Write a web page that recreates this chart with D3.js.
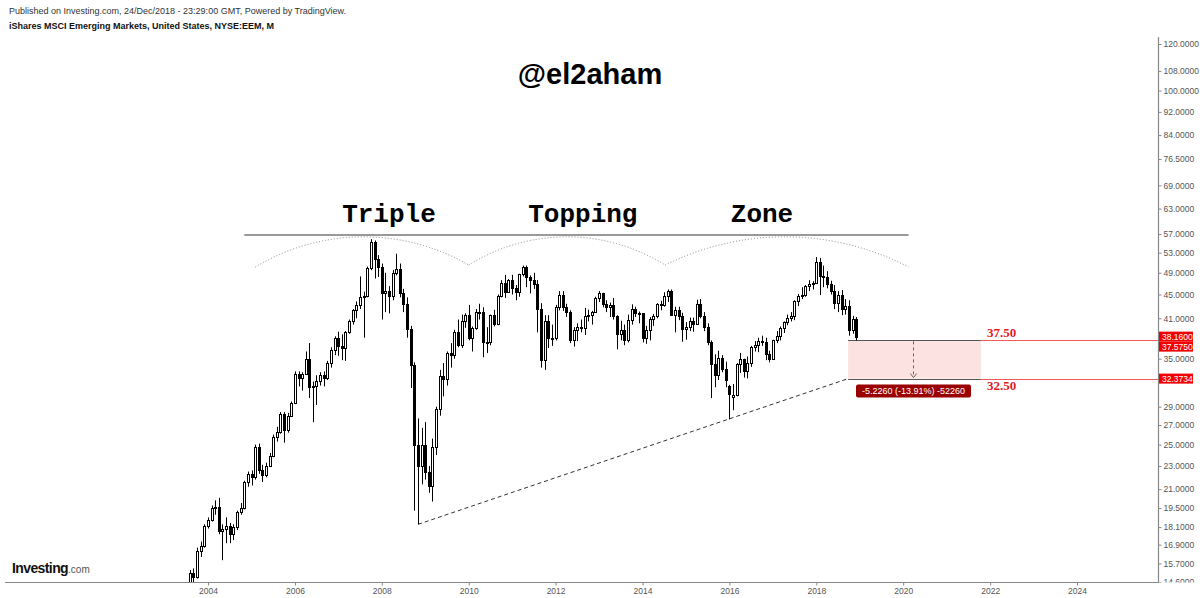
<!DOCTYPE html>
<html><head><meta charset="utf-8">
<script src="https://cdn.jsdelivr.net/npm/d3@7"></script>
<style>html,body{margin:0;padding:0;background:#fff;} svg{display:block;}</style>
</head><body>
<svg id="c" width="1200" height="598"></svg>
<script>
// ---- monthly bars (EEM, M) ----
const months = [
"2003-08","2003-09","2003-10","2003-11","2003-12",
"2004-01","2004-02","2004-03","2004-04","2004-05","2004-06","2004-07","2004-08","2004-09","2004-10","2004-11","2004-12",
"2005-01","2005-02","2005-03","2005-04","2005-05","2005-06","2005-07","2005-08","2005-09","2005-10","2005-11","2005-12",
"2006-01","2006-02","2006-03","2006-04","2006-05","2006-06","2006-07","2006-08","2006-09","2006-10","2006-11","2006-12",
"2007-01","2007-02","2007-03","2007-04","2007-05","2007-06","2007-07","2007-08","2007-09","2007-10","2007-11","2007-12",
"2008-01","2008-02","2008-03","2008-04","2008-05","2008-06","2008-07","2008-08","2008-09","2008-10","2008-11","2008-12",
"2009-01","2009-02","2009-03","2009-04","2009-05","2009-06","2009-07","2009-08","2009-09","2009-10","2009-11","2009-12",
"2010-01","2010-02","2010-03","2010-04","2010-05","2010-06","2010-07","2010-08","2010-09","2010-10","2010-11","2010-12",
"2011-01","2011-02","2011-03","2011-04","2011-05","2011-06","2011-07","2011-08","2011-09","2011-10","2011-11","2011-12",
"2012-01","2012-02","2012-03","2012-04","2012-05","2012-06","2012-07","2012-08","2012-09","2012-10","2012-11","2012-12",
"2013-01","2013-02","2013-03","2013-04","2013-05","2013-06","2013-07","2013-08","2013-09","2013-10","2013-11","2013-12",
"2014-01","2014-02","2014-03","2014-04","2014-05","2014-06","2014-07","2014-08","2014-09","2014-10","2014-11","2014-12",
"2015-01","2015-02","2015-03","2015-04","2015-05","2015-06","2015-07","2015-08","2015-09","2015-10","2015-11","2015-12",
"2016-01","2016-02","2016-03","2016-04","2016-05","2016-06","2016-07","2016-08","2016-09","2016-10","2016-11","2016-12",
"2017-01","2017-02","2017-03","2017-04","2017-05","2017-06","2017-07","2017-08","2017-09","2017-10","2017-11","2017-12",
"2018-01","2018-02","2018-03","2018-04","2018-05","2018-06","2018-07","2018-08","2018-09","2018-10","2018-11","2018-12"
];
const opens = [
14.5,15.1,14.9,16.5,16.8,
18.2,18.6,19.5,19.6,17.8,18.0,18.2,17.6,18.1,19.2,19.5,21.6,
22.3,22.0,24.8,22.6,22.2,23.0,23.9,25.8,26.3,28.2,26.5,28.0,
29.4,33.0,32.5,33.0,35.0,31.3,31.4,32.1,32.8,32.5,34.4,36.2,
38.0,36.8,36.5,38.8,40.5,42.3,43.2,44.6,44.8,50.0,55.2,51.7,
50.2,45.2,45.6,44.8,49.0,49.8,45.3,43.3,39.3,34.2,25.0,23.0,
25.0,22.5,21.3,24.8,28.7,32.7,32.3,35.8,35.5,38.9,37.0,40.5,
41.5,37.9,39.4,42.1,42.0,37.4,37.3,41.5,40.1,44.8,47.0,45.5,
47.6,46.2,45.5,48.7,50.2,48.2,47.6,46.8,42.6,34.8,40.5,38.0,
37.9,42.9,45.0,42.9,42.0,37.6,39.1,39.6,39.5,41.3,41.6,42.1,
44.4,45.2,43.4,42.8,43.2,41.3,38.5,39.2,37.6,40.8,42.6,41.9,
41.8,38.0,39.2,40.9,41.3,43.3,43.2,44.8,45.6,41.6,42.3,41.3,
39.3,39.6,40.6,40.1,43.3,41.3,39.6,37.4,34.3,32.8,35.1,33.6,
31.4,30.1,30.4,34.3,34.9,33.4,34.4,36.6,37.0,37.5,37.4,35.6,
35.0,37.6,38.3,39.4,40.4,41.1,41.4,43.9,44.8,44.9,46.5,46.9,
47.1,51.2,48.3,48.2,46.9,45.7,43.6,45.0,42.6,43.0,39.1,40.9
];
const highs = [
15.3,15.4,16.7,17.1,18.3,
18.8,19.7,20.1,20.3,18.3,18.8,18.4,18.3,19.3,19.9,21.7,22.5,
22.6,25.0,25.1,23.1,23.3,24.2,26.0,26.8,28.4,28.4,28.3,29.6,
33.3,33.3,33.2,36.0,37.2,32.0,32.8,33.2,33.3,34.7,36.6,38.2,
38.9,38.5,39.0,40.8,42.5,43.8,48.3,45.5,50.2,55.9,55.6,52.5,
50.8,49.0,46.5,49.5,52.8,50.8,46.0,44.5,39.8,34.5,27.7,26.7,
27.3,23.0,25.6,29.0,33.5,34.4,36.0,37.2,39.2,40.8,41.6,41.8,
43.2,39.7,42.5,43.4,42.8,39.6,41.6,42.4,45.0,47.6,48.6,47.8,
48.6,46.7,48.8,50.4,50.4,48.5,49.0,47.6,43.5,41.5,41.5,40.0,
43.2,45.6,45.6,43.4,42.3,39.6,40.2,40.8,42.7,42.4,42.2,44.6,
45.6,45.3,44.0,43.6,44.4,41.5,40.6,40.0,41.6,43.3,42.9,42.1,
41.8,39.8,41.2,41.7,43.5,43.9,45.4,45.9,45.9,42.9,42.9,41.9,
40.4,41.1,41.1,44.1,44.2,42.0,40.2,37.6,35.6,36.1,35.5,34.6,
31.6,31.7,34.4,35.8,35.0,35.3,36.8,37.5,38.0,38.3,38.0,36.1,
37.7,39.0,39.7,40.5,41.6,42.0,44.0,45.1,46.3,46.7,47.6,47.4,
52.1,51.9,50.4,49.3,47.5,46.7,45.6,45.8,44.2,44.0,41.4,41.2
];
const lows = [
14.2,14.6,14.8,16.1,16.7,
18.0,18.5,19.0,17.6,15.9,17.0,17.0,17.2,17.9,19.0,19.4,21.2,
21.3,21.8,22.3,21.6,22.0,22.9,23.8,25.3,26.1,25.2,26.2,27.9,
29.3,31.4,30.9,32.9,30.0,27.3,29.2,31.5,31.4,32.2,33.8,35.5,
35.4,34.8,34.7,38.6,40.0,41.0,42.5,38.0,44.5,49.5,47.9,48.2,
40.8,42.0,41.8,44.0,48.5,44.5,42.0,38.0,31.2,19.3,18.3,21.4,
21.8,20.7,20.0,24.0,28.0,30.2,31.5,33.8,35.0,36.6,36.5,39.5,
37.6,36.0,39.2,40.8,35.2,35.8,36.9,39.7,39.9,44.5,44.4,45.3,
45.0,44.0,44.6,48.3,46.3,45.2,46.0,38.8,33.8,33.5,36.5,36.8,
37.6,42.3,42.2,41.2,37.2,36.7,37.5,38.8,38.4,40.5,40.0,42.0,
43.7,42.8,42.0,41.2,40.8,36.3,37.6,36.9,37.3,40.0,41.2,40.2,
37.3,37.1,37.6,39.8,41.0,42.3,42.9,43.7,41.5,38.8,40.7,37.4,
37.7,39.0,38.9,40.0,41.0,39.0,36.9,30.0,31.3,32.2,33.2,31.3,
27.6,28.6,30.2,33.1,32.5,32.4,33.9,36.0,35.9,36.8,34.8,34.5,
35.0,37.2,37.6,38.7,39.9,40.5,40.7,43.0,44.2,44.6,45.6,45.9,
47.1,44.9,46.3,46.1,45.0,42.5,42.0,41.5,41.6,38.3,38.6,37.575
];
const closes = [
15.1,14.9,16.5,16.8,18.2,
18.6,19.5,19.6,17.8,18.0,18.2,17.6,18.1,19.2,19.5,21.6,22.3,
22.0,24.8,22.6,22.2,23.0,23.9,25.8,26.3,28.2,26.5,28.0,29.4,
33.0,32.5,33.0,35.0,31.3,31.4,32.1,32.8,32.5,34.4,36.2,38.0,
36.8,36.5,38.8,40.5,42.3,43.2,44.6,44.8,50.0,55.2,51.7,50.2,
45.2,45.6,44.8,49.0,49.8,45.3,43.3,39.3,34.2,25.0,23.0,25.0,
22.5,21.3,24.8,28.7,32.7,32.3,35.8,35.5,38.9,37.0,40.5,41.5,
37.9,39.4,42.1,42.0,37.4,37.3,41.5,40.1,44.8,47.0,45.5,47.6,
46.2,45.5,48.7,50.2,48.2,47.6,46.8,42.6,34.8,40.5,38.0,37.9,
42.9,45.0,42.9,42.0,37.6,39.1,39.6,39.5,41.3,41.6,42.1,44.4,
45.2,43.4,42.8,43.2,41.3,38.5,39.2,37.6,40.8,42.6,41.9,41.8,
38.0,39.2,40.9,41.3,43.3,43.2,44.8,45.6,41.6,42.3,41.3,39.3,
39.6,40.6,40.1,43.3,41.3,39.6,37.4,34.3,32.8,35.1,33.6,32.2,
30.5,30.4,34.3,34.9,33.4,34.4,36.6,37.0,37.5,37.4,35.6,35.0,
37.6,38.3,39.4,40.4,41.1,41.4,43.9,44.8,44.9,46.5,46.9,47.1,
51.2,48.3,48.2,46.9,45.7,43.6,45.0,42.6,43.0,39.1,40.9,38.16
];

// ---- axis ticks ----
const yTickValues = [120,108,100,92,84,76.5,69,63,57,53,49,45,41,35,29,27,25,23,21,19.5,18.1,16.9,15.7,14.6];
const xTickYears = ["2004","2006","2008","2010","2012","2014","2016","2018","2020","2022","2024"];
const priceTags = [38.16, 37.575, 32.3734];

// ---- drawings (date, price) ----
const topLine = ["2004-11-01", "2020-02-15", 56.8];
const arcs = [["2005-02-01",50.1,"2010-01-01",50.5],["2010-01-01",50.5,"2014-07-10",50.5],["2014-07-10",50.5,"2020-02-15",50.1]];
const arcTop = 56.4;
const trendLine = ["2008-11-01",18.3,"2018-09-25",32.3734];
const rangeBox = ["2018-09-25","2021-10-15",37.6,32.3734];
const rangeArrowDate = "2020-03-25";
const rangeLabels = [["37.50",37.6,"above"],["32.50",32.3734,"below"]];
const rangeText = "-5.2260 (-13.91%) -52260";
const zoneWords = [["Triple","2008-03-01"],["Topping","2012-08-17"],["Zone","2016-10-01"]];
const zoneWordPrice = 59.8;

// ---- setup ----
const svg = d3.select("#c");
const pm = d3.utcParse("%Y-%m");
const pd = d3.utcParse("%Y-%m-%d");
const py = d3.utcParse("%Y");
const SANS = "Arial, 'Liberation Sans', sans-serif";
const AX = 1158, AY = 582;

const x = d3.scaleUtc().domain([py("2004"), py("2024")]).range([208, 1077]);
const y = d3.scaleLog().domain([14.6, 120]).range([582, 44]);

const defs = svg.append("defs");
defs.append("clipPath").attr("id","plot").append("rect").attr("x",0).attr("y",37).attr("width",AX).attr("height",AY-37);
defs.append("clipPath").attr("id","yax").append("rect").attr("x",AX).attr("y",30).attr("width",42).attr("height",AY-30+0.5);

// header
svg.append("text").attr("x",9).attr("y",14).attr("font-family",SANS).attr("font-size",9).attr("fill","#333")
  .text("Published on Investing.com, 24/Dec/2018 - 23:29:00 GMT, Powered by TradingView.");
svg.append("text").attr("x",9).attr("y",29).attr("font-family",SANS).attr("font-size",9).attr("font-weight","bold").attr("fill","#111")
  .text("iShares MSCI Emerging Markets, United States, NYSE:EEM, M");

// title
svg.append("text").attr("x",590).attr("y",84).attr("text-anchor","middle").attr("font-family",SANS)
  .attr("font-size",29).attr("font-weight","bold").attr("fill","#000").text("@el2aham");

const plot = svg.append("g").attr("clip-path","url(#plot)");

// range box
const bx0 = x(pd(rangeBox[0])), bx1 = x(pd(rangeBox[1]));
const by0 = y(rangeBox[2]), by1 = y(rangeBox[3]);
plot.append("rect").attr("x",bx0).attr("y",by0).attr("width",bx1-bx0).attr("height",by1-by0).attr("fill","#fde2e2");
[by0, by1].forEach(v => {
  plot.append("line").attr("x1",bx0).attr("x2",bx1).attr("y1",Math.round(v)+0.5).attr("y2",Math.round(v)+0.5).attr("stroke","#555").attr("stroke-width",1);
  plot.append("line").attr("x1",bx1).attr("x2",AX).attr("y1",Math.round(v)+0.5).attr("y2",Math.round(v)+0.5).attr("stroke","#f05a5a").attr("stroke-width",1);
});
const ax = Math.round(x(pd(rangeArrowDate)))+0.5;
plot.append("line").attr("x1",ax).attr("x2",ax).attr("y1",by0+1).attr("y2",by1-1).attr("stroke","#666").attr("stroke-dasharray","3,3");
plot.append("path").attr("d",`M${ax-3},${by1-5} L${ax},${by1-1} L${ax+3},${by1-5}`).attr("fill","none").attr("stroke","#666");

// trend line
plot.append("line").attr("x1",x(pd(trendLine[0]))).attr("y1",y(trendLine[1])).attr("x2",x(pd(trendLine[2]))).attr("y2",y(trendLine[3]))
  .attr("stroke","#333").attr("stroke-width",1).attr("stroke-dasharray","4,3");

// top line
plot.append("line").attr("x1",x(pd(topLine[0]))).attr("x2",x(pd(topLine[1]))).attr("y1",y(topLine[2])).attr("y2",y(topLine[2]))
  .attr("stroke","#777").attr("stroke-width",1.5);

// dotted arcs
arcs.forEach(a => {
  const x0 = x(pd(a[0])), y0 = y(a[1]), x1 = x(pd(a[2])), y1 = y(a[3]);
  const s = (y0+y1)/2 - y(arcTop), w = (x1-x0)/2;
  const R = (w*w + s*s)/(2*s);
  plot.append("path").attr("d",`M${x0},${y0} A${R},${R} 0 0 1 ${x1},${y1}`)
    .attr("fill","none").attr("stroke","#888").attr("stroke-width",1).attr("stroke-dasharray","1,2");
});

// candles
const bars = months.map((m,i)=>({d:pm(m),o:opens[i],h:highs[i],l:lows[i],c:closes[i]}));
const cg = plot.append("g");
bars.forEach(b => {
  const cx = Math.round(x(b.d));
  cg.append("line").attr("x1",cx+0.5).attr("x2",cx+0.5).attr("y1",y(b.h)).attr("y2",y(b.l)).attr("stroke","#000").attr("stroke-width",1);
  const t = Math.round(y(Math.max(b.o,b.c))), bt = Math.round(y(Math.min(b.o,b.c)));
  const up = b.c >= b.o;
  cg.append("rect").attr("x",cx-0.5).attr("y",t+0.5).attr("width",2).attr("height",Math.max(1,bt-t))
    .attr("fill",up?"#fff":"#000").attr("stroke","#000").attr("stroke-width",1);
});

// zone words
zoneWords.forEach(w => {
  svg.append("text").attr("x",x(pd(w[1]))).attr("y",y(zoneWordPrice)).attr("text-anchor","middle")
    .attr("font-family","'Liberation Mono', 'Courier New', monospace").attr("font-weight","bold").attr("font-size",26).attr("fill","#000").text(w[0]);
});

// range labels
rangeLabels.forEach(r => {
  svg.append("text").attr("x",bx1+6).attr("y",r[2]==="above"? y(r[1])-3 : y(r[1])+11)
    .attr("font-family","'Liberation Serif', 'Times New Roman', serif").attr("font-weight","bold").attr("font-size",13)
    .attr("fill","#e01b1b").text(r[0]);
});
const lbw = 115, lbh = 13;
svg.append("rect").attr("x",ax-lbw/2).attr("y",by1+6).attr("width",lbw).attr("height",lbh).attr("rx",2).attr("fill","#9b0000");
svg.append("text").attr("x",ax).attr("y",by1+6+lbh/2).attr("dy","0.35em").attr("text-anchor","middle")
  .attr("font-family",SANS).attr("font-size",9).attr("fill","#fff").text(rangeText);

// axes
const yAxis = d3.axisRight(y).tickValues(yTickValues).tickSize(3).tickPadding(2).tickFormat(d=>d.toFixed(4));
const yclip = svg.append("g").attr("clip-path","url(#yax)");
const yg = yclip.append("g").attr("transform",`translate(${AX+0.5},0)`).call(yAxis);
yg.select(".domain").remove();
yg.selectAll("text").attr("font-family",SANS).attr("font-size",8.5).attr("fill","#555");
yg.selectAll(".tick line").attr("stroke","#888");

const xAxis = d3.axisBottom(x).tickValues(xTickYears.map(v=>py(v))).tickSize(3).tickPadding(2).tickFormat(d3.utcFormat("%Y"));
const xg = svg.append("g").attr("transform",`translate(0,${AY+0.5})`).call(xAxis);
xg.select(".domain").remove();
xg.selectAll("text").attr("font-family",SANS).attr("font-size",8.5).attr("fill","#555");
xg.selectAll(".tick line").attr("stroke","#888");

svg.append("line").attr("x1",AX+0.5).attr("x2",AX+0.5).attr("y1",37).attr("y2",AY+1).attr("stroke","#888").attr("stroke-width",1.2);
svg.append("line").attr("x1",5).attr("x2",AX+1).attr("y1",AY+0.5).attr("y2",AY+0.5).attr("stroke","#888").attr("stroke-width",1.2);

// price tags (pushed apart)
let prevBottom = -Infinity;
priceTags.forEach(p => {
  const h = 10;
  let top = y(p) - h/2;
  if (top < prevBottom) top = prevBottom;
  prevBottom = top + h;
  svg.append("rect").attr("x",AX+1).attr("y",top).attr("width",34).attr("height",h).attr("fill","#f20000");
  svg.append("text").attr("x",AX+4).attr("y",top+h/2).attr("dy","0.35em").attr("font-family",SANS).attr("font-size",8.5)
    .attr("fill","#fff").text(p.toFixed(4));
});

// Investing.com logo
const logo = svg.append("text").attr("x",12).attr("y",573).attr("font-family",SANS);
logo.append("tspan").attr("font-size",14).attr("font-weight","bold").attr("letter-spacing","-0.6").attr("fill","#111").text("Investing");
logo.append("tspan").attr("font-size",10).attr("fill","#555").text(".com");
</script>
</body></html>
